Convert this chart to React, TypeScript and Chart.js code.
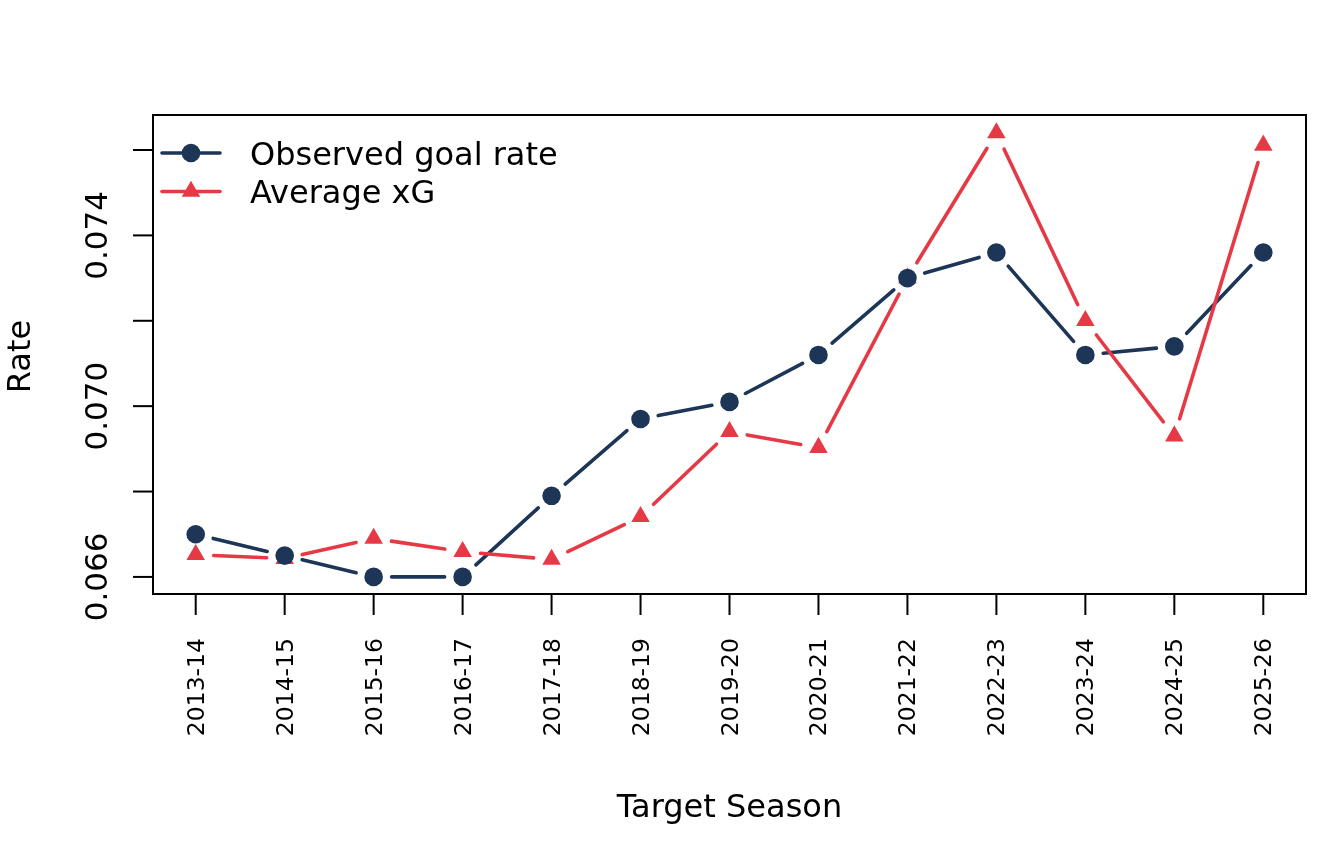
import React, { useEffect, useRef } from "react";
import { Chart, registerables } from "chart.js";

Chart.register(...registerables);

const seasons = [
  "2013-14", "2014-15", "2015-16", "2016-17", "2017-18", "2018-19", "2019-20",
  "2020-21", "2021-22", "2022-23", "2023-24", "2024-25", "2025-26",
];
const observedGoalRate = [
  0.0670, 0.0665, 0.0660, 0.0660, 0.0679, 0.0697, 0.0701,
  0.0712, 0.0730, 0.0736, 0.0712, 0.0714, 0.0736,
];
const averageXG = [
  0.06652, 0.06643, 0.06690, 0.06659, 0.06641, 0.06741, 0.06940,
  0.06903, 0.07300, 0.07640, 0.07200, 0.06930, 0.07611,
];
const yTicks = [0.066, 0.068, 0.070, 0.072, 0.074, 0.076];
const yTickLabels = ["0.066", "", "0.070", "", "0.074", ""];
const seriesNames = ["Observed goal rate", "Average xG"];

const NAVY = "#1D3557";
const RED = "#E63946";
const FONT = "'DejaVu Sans', sans-serif";

export default function App() {
  const ref = useRef<HTMLCanvasElement | null>(null);

  useEffect(() => {
    document.body.style.margin = "0";
    document.body.style.overflow = "hidden";
    const canvas = ref.current;
    if (!canvas) return;

    const gapLines = {
      id: "gapLines",
      beforeDatasetsDraw(chart: any) {
        const ctx = chart.ctx;
        const gap = 18;
        chart.data.datasets.forEach((ds: any, i: number) => {
          const meta = chart.getDatasetMeta(i);
          const pts = meta.data;
          ctx.save();
          ctx.strokeStyle = ds.lineColor;
          ctx.lineWidth = 3.6;
          ctx.lineCap = "round";
          for (let k = 0; k < pts.length - 1; k++) {
            const a = pts[k], b = pts[k + 1];
            const dx = b.x - a.x, dy = b.y - a.y;
            const len = Math.hypot(dx, dy);
            if (len <= 2 * gap) continue;
            const ux = dx / len, uy = dy / len;
            ctx.beginPath();
            ctx.moveTo(a.x + ux * gap, a.y + uy * gap);
            ctx.lineTo(b.x - ux * gap, b.y - uy * gap);
            ctx.stroke();
          }
          ctx.restore();
        });
      },
    };

    const decor = {
      id: "decor",
      afterDraw(chart: any) {
        const ctx = chart.ctx;
        const area = chart.chartArea;
        const xs = chart.scales.x;
        const ys = chart.scales.y;
        ctx.save();
        ctx.strokeStyle = "#000";
        ctx.fillStyle = "#000";
        ctx.lineWidth = 2;
        // box
        ctx.strokeRect(area.left, area.top, area.right - area.left, area.bottom - area.top);
        // y ticks
        yTicks.forEach((v, i) => {
          const y = ys.getPixelForValue(v);
          ctx.beginPath();
          ctx.moveTo(area.left - 20, y);
          ctx.lineTo(area.left, y);
          ctx.stroke();
          if (yTickLabels[i]) {
            ctx.save();
            ctx.translate(area.left - 46, y);
            ctx.rotate(-Math.PI / 2);
            ctx.font = `31px ${FONT}`;
            ctx.textAlign = "center";
            ctx.textBaseline = "alphabetic";
            ctx.fillText(yTickLabels[i], 0, 0);
            ctx.restore();
          }
        });
        // x ticks
        seasons.forEach((s, i) => {
          const x = xs.getPixelForValue(i);
          ctx.beginPath();
          ctx.moveTo(x, area.bottom);
          ctx.lineTo(x, area.bottom + 21);
          ctx.stroke();
          ctx.save();
          ctx.translate(x + 8, area.bottom + 44);
          ctx.rotate(-Math.PI / 2);
          ctx.font = `23.5px ${FONT}`;
          ctx.textAlign = "right";
          ctx.textBaseline = "alphabetic";
          ctx.fillText(s, 0, 0);
          ctx.restore();
        });
        // axis titles
        ctx.font = `32px ${FONT}`;
        ctx.textAlign = "center";
        ctx.textBaseline = "alphabetic";
        ctx.fillText("Target Season", (area.left + area.right) / 2, 817);
        ctx.save();
        ctx.translate(30, (area.top + area.bottom) / 2 + 2);
        ctx.rotate(-Math.PI / 2);
        ctx.fillText("Rate", 0, 0);
        ctx.restore();
        // legend
        const rows = [153, 191.5];
        chart.data.datasets.forEach((ds: any, i: number) => {
          const y = rows[i];
          ctx.save();
          ctx.strokeStyle = ds.lineColor;
          ctx.lineWidth = 3.6;
          ctx.lineCap = "round";
          ctx.beginPath();
          ctx.moveTo(162, y);
          ctx.lineTo(220, y);
          ctx.stroke();
          ctx.fillStyle = ds.lineColor;
          ctx.beginPath();
          if (ds.pointStyle === "triangle") {
            const r = ds.pointRadius;
            ctx.moveTo(191, y - r);
            ctx.lineTo(191 + r * Math.sin((2 * Math.PI) / 3), y + r / 2);
            ctx.lineTo(191 - r * Math.sin((2 * Math.PI) / 3), y + r / 2);
            ctx.closePath();
          } else {
            ctx.arc(191, y, ds.pointRadius, 0, Math.PI * 2);
          }
          ctx.fill();
          ctx.fillStyle = "#000";
          ctx.font = `32px ${FONT}`;
          ctx.textAlign = "left";
          ctx.textBaseline = "alphabetic";
          ctx.fillText(seriesNames[i], 250, y + 11.5);
          ctx.restore();
        });
        ctx.restore();
      },
    };

    const chart = new Chart(canvas, {
      type: "line",
      data: {
        datasets: [
          {
            label: seriesNames[0],
            data: observedGoalRate.map((v, i) => ({ x: i, y: v })),
            showLine: false,
            pointStyle: "circle",
            pointRadius: 9.3,
            pointBackgroundColor: NAVY,
            pointBorderWidth: 0,
            lineColor: NAVY,
          } as any,
          {
            label: seriesNames[1],
            data: averageXG.map((v, i) => ({ x: i, y: v })),
            showLine: false,
            pointStyle: "triangle",
            pointRadius: 10.7,
            pointBackgroundColor: RED,
            pointBorderWidth: 0,
            lineColor: RED,
          } as any,
        ],
      },
      options: {
        animation: false,
        responsive: false,
        maintainAspectRatio: false,
        devicePixelRatio: 1,
        layout: { padding: { left: 153, right: 38, top: 115, bottom: 270 } },
        plugins: { legend: { display: false }, tooltip: { enabled: false } },
        scales: {
          x: { type: "linear", min: -0.48, max: 12.48, display: false },
          y: { type: "linear", min: 0.0656, max: 0.07682, display: false },
        },
      },
      plugins: [gapLines, decor],
    });
    return () => chart.destroy();
  }, []);

  return (
    <div style={{ width: 1344, height: 864, background: "#fff" }}>
      <canvas ref={ref} width={1344} height={864} style={{ display: "block", width: 1344, height: 864 }} />
    </div>
  );
}
